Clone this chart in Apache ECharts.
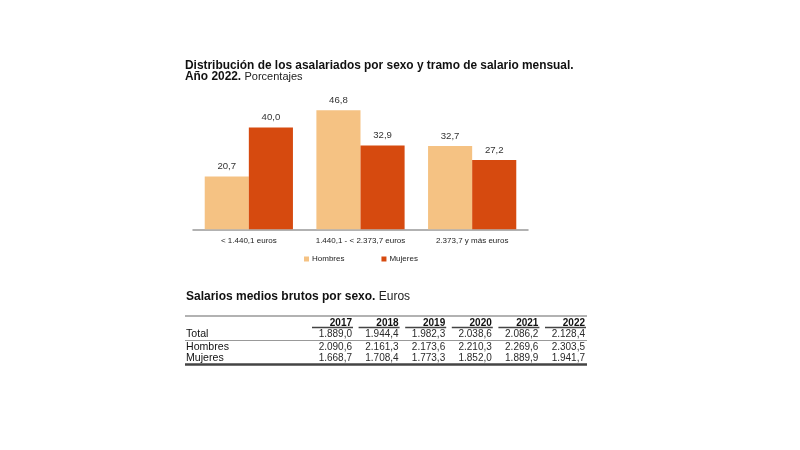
<!DOCTYPE html>
<html>
<head>
<meta charset="utf-8">
<script src="https://cdn.jsdelivr.net/npm/echarts@6/dist/echarts.min.js"></script>
<style>
html,body{margin:0;padding:0;background:#fff;}
#chart{width:800px;height:450px;}
</style>
</head>
<body>
<div id="chart"></div>
<script>
// ---- Data ----
const categories = ['< 1.440,1 euros', '1.440,1 - < 2.373,7 euros', '2.373,7 y más euros'];
const hombres = [20.7, 46.8, 32.7];
const mujeres = [40.0, 32.9, 27.2];
const seriesNames = ['Hombres', 'Mujeres'];

const years = ['2017', '2018', '2019', '2020', '2021', '2022'];
const rowLabels = ['Total', 'Hombres', 'Mujeres'];
const salTotal = [1889.0, 1944.4, 1982.3, 2038.6, 2086.2, 2128.4];
const salHombres = [2090.6, 2161.3, 2173.6, 2210.3, 2269.6, 2303.5];
const salMujeres = [1668.7, 1708.4, 1773.3, 1852.0, 1889.9, 1941.7];

const FONT = '"Liberation Sans", Arial, sans-serif';
function fmt(v) {
  const parts = v.toFixed(1).split('.');
  const int = parts[0].replace(/\B(?=(\d{3})+(?!\d))/g, '.');
  return int + ',' + parts[1];
}

const chart = echarts.init(document.getElementById('chart'), null, {renderer: 'canvas'});

// table graphics
const colRight = [352, 398.6, 445.2, 491.8, 538.4, 585];
const tLeft = 185, tRight = 587;
const rowY = {header: 323, total: 334.5, hombres: 347.5, mujeres: 358.5};
const graphics = [];
// titles
graphics.push({type: 'text', left: 185, top: 59.5, style: {text: 'Distribución de los asalariados por sexo y tramo de salario mensual.', font: 'bold 11.9px ' + FONT, fill: '#111'}});
graphics.push({type: 'text', left: 185, top: 70.5, style: {
  text: '{b|Año 2022.} {n|Porcentajes}',
  rich: {b: {font: 'bold 11.9px ' + FONT, fill: '#111'}, n: {font: '11px ' + FONT, fill: '#222'}}
}});
graphics.push({type: 'text', left: 186, top: 291, style: {
  text: '{b|Salarios medios brutos por sexo.} {n|Euros}',
  rich: {b: {font: 'bold 12px ' + FONT, fill: '#111'}, n: {font: '12px ' + FONT, fill: '#222'}}
}});
// lines
graphics.push({type: 'line', shape: {x1: tLeft, y1: 316, x2: tRight, y2: 316}, style: {stroke: '#999', lineWidth: 1.5}});
graphics.push({type: 'line', shape: {x1: tLeft, y1: 340.5, x2: tRight, y2: 340.5}, style: {stroke: '#999', lineWidth: 1.2}});
graphics.push({type: 'line', shape: {x1: tLeft, y1: 364.5, x2: tRight, y2: 364.5}, style: {stroke: '#444', lineWidth: 2.5}});
years.forEach((y, i) => {
  graphics.push({type: 'line', shape: {x1: colRight[i] - 40, y1: 327.5, x2: colRight[i] + 1, y2: 327.5}, style: {stroke: '#444', lineWidth: 1.5}});
  graphics.push({type: 'text', x: colRight[i], y: rowY.header, style: {text: y, font: 'bold 10px ' + FONT, fill: '#111', align: 'right', verticalAlign: 'middle'}});
});
const rows = [[rowLabels[0], salTotal, rowY.total], [rowLabels[1], salHombres, rowY.hombres], [rowLabels[2], salMujeres, rowY.mujeres]];
rows.forEach(r => {
  graphics.push({type: 'text', x: 186, y: r[2], style: {text: r[0], font: '10.6px ' + FONT, fill: '#111', verticalAlign: 'middle'}});
  r[1].forEach((v, i) => {
    graphics.push({type: 'text', x: colRight[i], y: r[2], style: {text: fmt(v), font: '10px ' + FONT, fill: '#2a2a2a', align: 'right', verticalAlign: 'middle'}});
  });
});

const labelStyle = {show: true, position: 'top', distance: 5, fontFamily: FONT, fontSize: 9.6, color: '#333', formatter: p => fmt(p.value)};

chart.setOption({
  backgroundColor: '#fff',
  animation: false,
  grid: {left: 193, right: 272, top: 102, bottom: 220.7, containLabel: false},
  legend: {
    data: seriesNames, left: 299, top: 250, itemWidth: 5, itemHeight: 5, itemGap: 37, icon: 'rect',
    textStyle: {fontFamily: FONT, fontSize: 8, color: '#222', padding: [0, 0, 0, -2]}
  },
  xAxis: {
    type: 'category', data: categories,
    axisLine: {lineStyle: {color: '#999', width: 1.5}},
    axisTick: {show: false},
    axisLabel: {fontFamily: FONT, fontSize: 8, color: '#222', margin: 7, interval: 0}
  },
  yAxis: {type: 'value', min: 0, max: 50, show: false, splitLine: {show: false}},
  series: [
    {name: seriesNames[0], type: 'bar', data: hombres, barGap: '0%', barCategoryGap: '21%', itemStyle: {color: '#F5C283'}, label: labelStyle},
    {name: seriesNames[1], type: 'bar', data: mujeres, itemStyle: {color: '#D64A0F'}, label: labelStyle}
  ],
  graphic: graphics
});
</script>
</body>
</html>
